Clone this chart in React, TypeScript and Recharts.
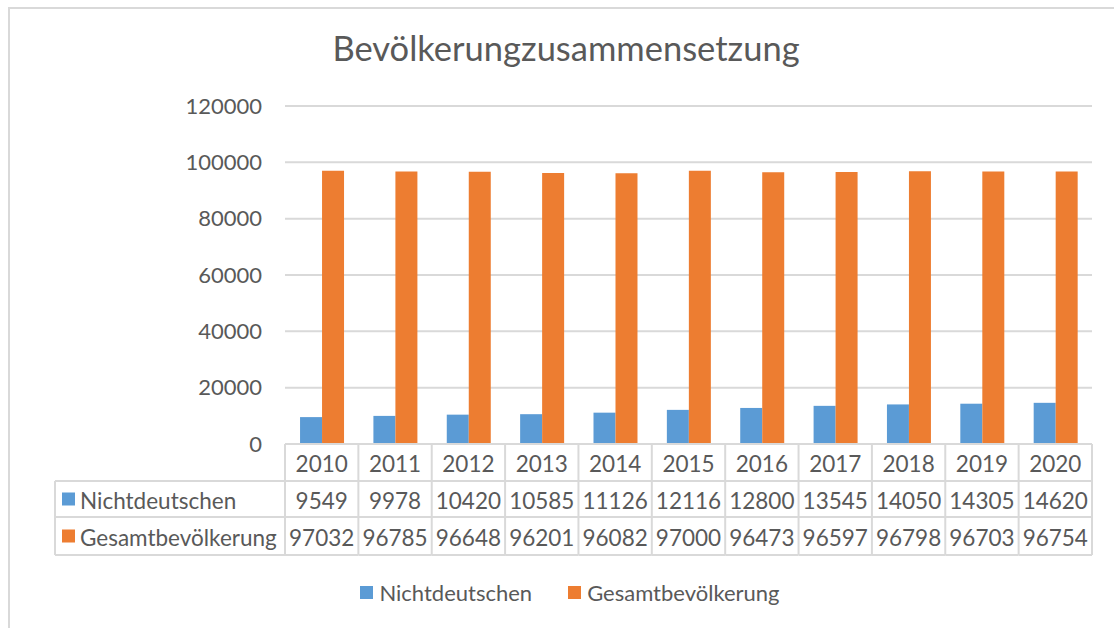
import React from 'react';
import { BarChart, Bar, XAxis, YAxis, CartesianGrid, Legend } from 'recharts';

const years = ['2010', '2011', '2012', '2013', '2014', '2015', '2016', '2017', '2018', '2019', '2020'];
const nichtdeutschen = [9549, 9978, 10420, 10585, 11126, 12116, 12800, 13545, 14050, 14305, 14620];
const gesamt = [97032, 96785, 96648, 96201, 96082, 97000, 96473, 96597, 96798, 96703, 96754];
const yTicks = [0, 20000, 40000, 60000, 80000, 100000, 120000];

const seriesNames = ['Nichtdeutschen', 'Gesamtbevölkerung'];
const seriesColors = ['#5B9BD5', '#ED7D31'];

const data = years.map((year, i) => ({
  year,
  nicht: nichtdeutschen[i],
  gesamt: gesamt[i],
}));

const FONT = 'Lato, "Open Sans", sans-serif';
const TEXT = '#595959';
const LINE = '#d9d9d9';
const TABLE_FS = 22.5;

const W = 1114;
const H = 628;
const PLOT_LEFT = 285;
const PLOT_RIGHT = 1092;
const CELL_W = (PLOT_RIGHT - PLOT_LEFT) / years.length;
const LABEL_W = 230;
const ROWS = [0, 37, 73, 111]; // row borders relative to the axis line

// draws one column of the data table under its category
const TableTick = (props: any) => {
  const { x, y, payload } = props;
  const i = years.indexOf(String(payload.value));
  const left = x - CELL_W / 2;
  const right = x + CELL_W / 2;
  const rows = [payload.value, nichtdeutschen[i], gesamt[i]];
  return (
    <g>
      {ROWS.map((r, k) => (
        <line key={k} x1={left} x2={right} y1={y + r} y2={y + r} stroke={LINE} strokeWidth={2} />
      ))}
      <line x1={right} x2={right} y1={y} y2={y + ROWS[3]} stroke={LINE} strokeWidth={2} />
      {i === 0 && (
        <g>
          <line x1={left} x2={left} y1={y} y2={y + ROWS[3]} stroke={LINE} strokeWidth={2} />
          <line x1={left - LABEL_W} x2={left - LABEL_W} y1={y + ROWS[1]} y2={y + ROWS[3]} stroke={LINE} strokeWidth={2} />
          {[1, 2, 3].map((k) => (
            <line key={k} x1={left - LABEL_W} x2={left} y1={y + ROWS[k]} y2={y + ROWS[k]} stroke={LINE} strokeWidth={2} />
          ))}
          {seriesNames.map((name, s) => (
            <g key={name}>
              <rect x={left - LABEL_W + 7} y={y + (ROWS[s + 1] + ROWS[s + 2]) / 2 - 6.5} width={13} height={13} fill={seriesColors[s]} />
              <text x={left - LABEL_W + 25} y={y + (ROWS[s + 1] + ROWS[s + 2]) / 2 + 1} dominantBaseline="central" fontSize={TABLE_FS} fill={TEXT} fontFamily={FONT}>
                {name}
              </text>
            </g>
          ))}
        </g>
      )}
      {rows.map((v, k) => (
        <text key={k} x={x} y={y + (ROWS[k] + ROWS[k + 1]) / 2 + 1} textAnchor="middle" dominantBaseline="central" fontSize={TABLE_FS} fill={TEXT} fontFamily={FONT}>
          {v}
        </text>
      ))}
    </g>
  );
};

const renderLegend = (props: any) => {
  const items = [...(props.payload || [])].sort(
    (a: any, b: any) => seriesNames.indexOf(a.value) - seriesNames.indexOf(b.value)
  );
  return (
    <div style={{ display: 'flex', justifyContent: 'center', gap: 36, fontFamily: FONT, fontSize: 22, color: TEXT }}>
      {items.map((p: any) => (
        <div key={p.value} style={{ display: 'flex', alignItems: 'center' }}>
          <span style={{ width: 13, height: 13, background: p.color, marginRight: 6, display: 'inline-block' }} />
          <span>{p.value}</span>
        </div>
      ))}
    </div>
  );
};

export default function App() {
  return (
    <div style={{ position: 'relative', width: W, height: H, overflow: 'hidden', background: '#fff', fontFamily: FONT }}>
      <style>{`body{margin:0}`}</style>
      <div style={{ position: 'absolute', left: 8, top: 7, width: W + 20, height: H + 20, border: `2px solid ${LINE}` }} />
      <div style={{ position: 'absolute', left: 0, top: 27, width: 1132, textAlign: 'center', fontSize: 34.5, color: TEXT }}>
        Bevölkerungzusammensetzung
      </div>
      <div style={{ position: 'absolute', left: 0, top: 0 }}>
        <BarChart
          width={W}
          height={H}
          data={data}
          margin={{ top: 106, right: W - PLOT_RIGHT, bottom: 0, left: PLOT_LEFT - 60 }}
          barCategoryGap="20.5%"
          barGap={0}
        >
          <CartesianGrid horizontal vertical={false} stroke={LINE} strokeWidth={2} />
          <YAxis
            width={60}
            domain={[0, 120000]}
            ticks={yTicks}
            axisLine={false}
            tickLine={false}
            tickSize={0}
            tickMargin={23}
            tick={{ fontSize: 22, fill: TEXT, fontFamily: FONT }}
          />
          <XAxis
            dataKey="year"
            height={184}
            interval={0}
            axisLine={false}
            tickLine={false}
            tickSize={0}
            tickMargin={0}
            tick={<TableTick />}
          />
          <Legend
            verticalAlign="middle"
            content={renderLegend}
            wrapperStyle={{ top: 579, left: 13, width: W }}
          />
          <Bar dataKey="nicht" name={seriesNames[0]} fill={seriesColors[0]} isAnimationActive={false} />
          <Bar dataKey="gesamt" name={seriesNames[1]} fill={seriesColors[1]} isAnimationActive={false} />
        </BarChart>
      </div>
    </div>
  );
}
